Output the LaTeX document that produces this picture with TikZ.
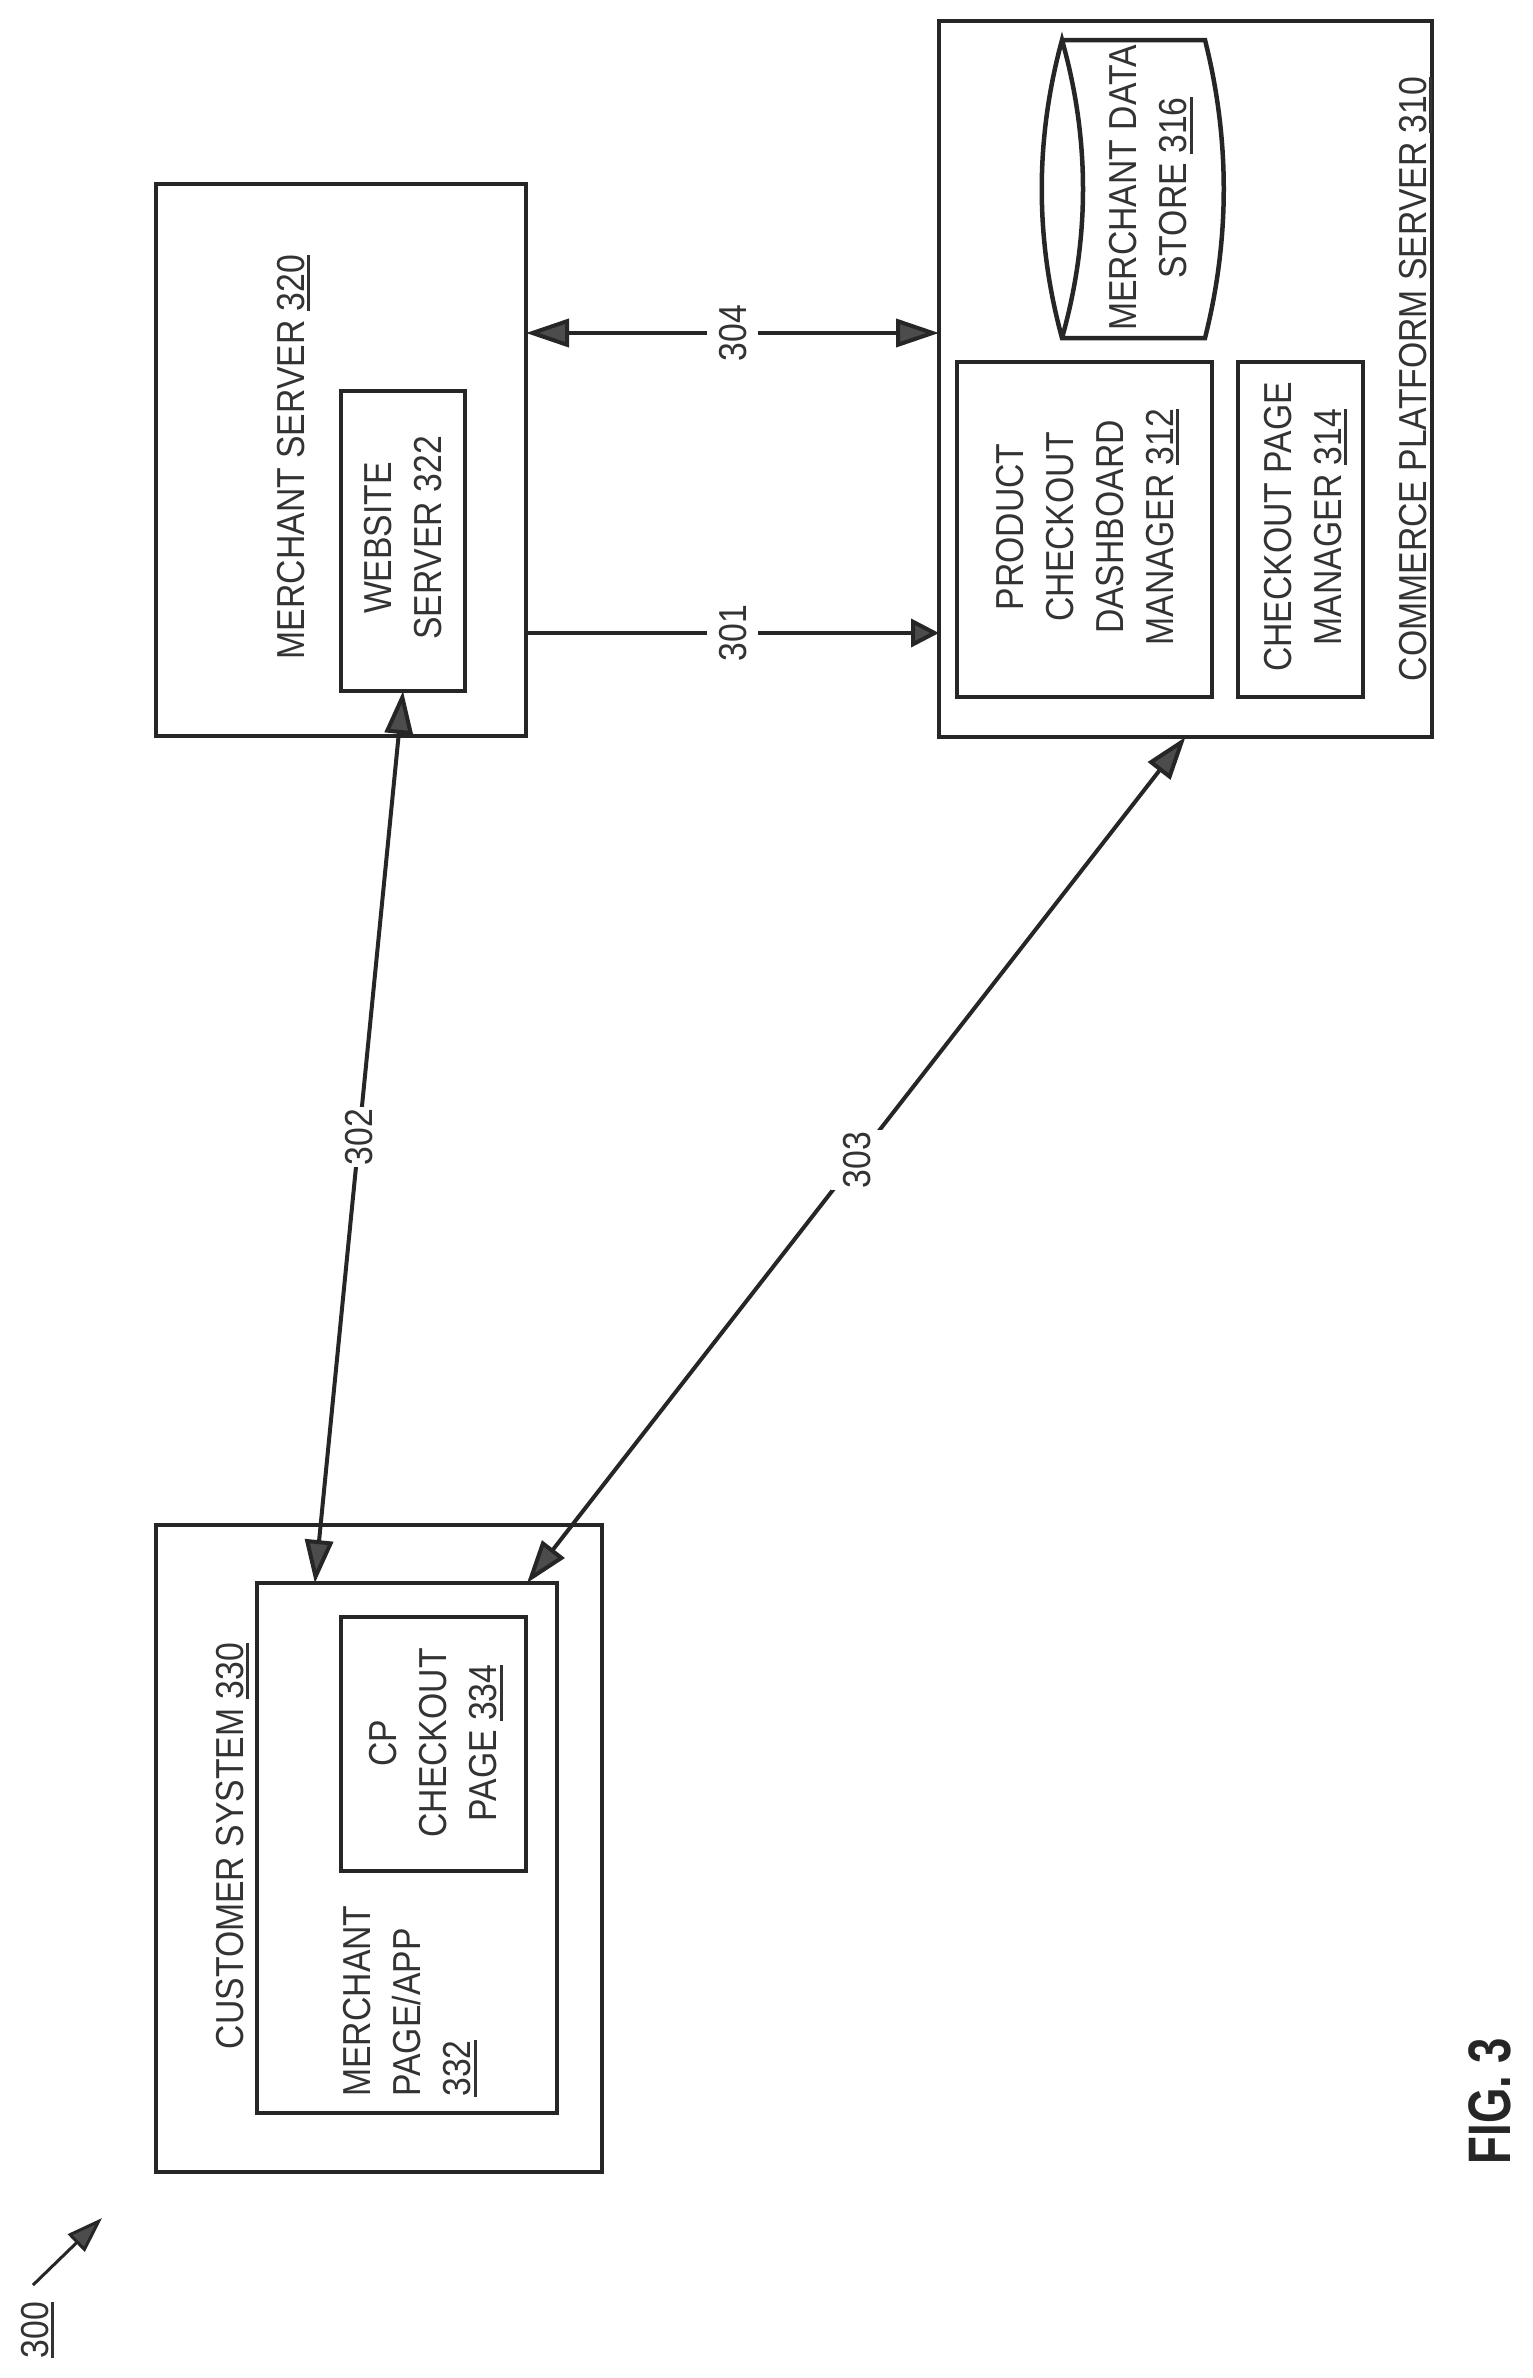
\documentclass[tikz,border=0pt]{standalone}
\usepackage{fontspec}
\setmainfont[FakeStretch=0.865]{Liberation Sans}
\newfontfamily\figfont[FakeStretch=0.76]{Liberation Sans}
\usetikzlibrary{calc,arrows.meta}
\newcommand{\refnum}[1]{\setbox0\hbox{#1}\rlap{\rule[-6pt]{\wd0}{3pt}}\box0}
\tikzset{
  every box/.style={draw=black!85, line width=4.5pt, minimum width={(\xb-\xa)*1pt}, minimum height={(\yb-\ya)*1pt}, inner sep=0pt, outer sep=0pt},
  boxtext/.style={rotate=90, align=center, font=\fontsize{39}{50}\selectfont, text=black!80, inner sep=0pt, text height=28pt, text depth=0pt},
  textlines/.style={text height={28pt+(#1-1)*50pt}},
  numlabel/.style={rotate=90, font=\fontsize{39}{50}\selectfont, fill=white, text=black!80, inner xsep=2pt, inner ysep=11.5pt, text height=28pt, text depth=0pt},
  link/.style={draw=black!85, line width=4pt},
}
\begin{document}
\begin{tikzpicture}[x=1pt, y=-1pt, >={Triangle[length=43pt,width=28pt,fill=black!70]}]
\useasboundingbox (0,0) rectangle (1532,2378);

\foreach \name/\xa/\ya/\xb/\yb in {merchant/156/184/526/736, website/341/391/465/691, platform/939/21/1432/737, product/957/362/1212/697, pagemanager/1238/362/1363/697, customer/156/1525/602/2172, merchantpage/257/1583/557/2113, cppage/341/1617/526/1871}
  \node [every box] (\name) at ({(\xa+\xb)/2},{(\ya+\yb)/2}) {};

% data store
\draw [link, line width=4.5pt] (1062,40) -- (1205,40) .. controls (1230,139) and (1230,239) .. (1205,338) -- (1062,338)
  .. controls (1035,239) and (1035,139) .. (1062,40) .. controls (1090,139) and (1090,239) .. (1062,338);
\node [boxtext, textlines=2] (store-text) at (1147.5,188) {MERCHANT DATA\\STORE \refnum{316}};

\node [boxtext] (merchant-text) at (290,457) {MERCHANT SERVER \refnum{320}};
\node [boxtext, textlines=2] (website-text) at (402.5,538) {WEBSITE\\SERVER 322};
\node [boxtext, textlines=4] (product-text) at (1084,527) {PRODUCT\\CHECKOUT\\DASHBOARD\\MANAGER \refnum{312}};
\node [boxtext, textlines=2] (pagemanager-text) at (1302,527) {CHECKOUT PAGE\\MANAGER \refnum{314}};
\node [boxtext] (platform-text) at (1412,379) {COMMERCE PLATFORM SERVER \refnum{310}};
\node [boxtext] (customer-text) at (229,1846) {CUSTOMER SYSTEM \refnum{330}};
\node [boxtext, textlines=3, align=left] (merchantpage-text) at (406.5,2001) {MERCHANT\\PAGE/APP\\\refnum{332}};
\node [boxtext, textlines=3] (cppage-text) at (432.5,1743) {CP\\CHECKOUT\\PAGE \refnum{334}};

\coordinate (row-304) at (0,333);
\coordinate (row-301) at (0,633);
\coordinate (tip-302) at ($(merchantpage.north west)!0.193!(merchantpage.north east)$);
\coordinate (tip-303) at ($(merchantpage.north west)!0.9!(merchantpage.north east)$);

\draw [link, <->] (merchant.east |- row-304) -- node [numlabel] {304} (platform.west |- row-304);
\draw [link, -{Triangle[length=28pt,width=28pt,fill=black!70]}] (merchant.east |- row-301) -- node [numlabel] {301} (platform.west |- row-301);
\draw [link, <->] (website.south) -- node [numlabel] {302} (tip-302);
\draw [link, <->] (platform.south) -- node [numlabel] {303} (tip-303);

% figure reference
\node [boxtext] (ref-300) at (34,2330) {\refnum{300}};
\coordinate (ref-tail) at (33,2285);
\coordinate (ref-head) at (102,2218);
\draw [link, line width=3pt, -{Triangle[length=36pt,width=24pt,fill=black!70]}] (ref-tail) -- (ref-head);

\node [rotate=90, inner sep=0pt, font=\figfont\bfseries\fontsize{60}{60}\selectfont, text=black!85] (fig-3) at (1489.5,2101) {FIG. 3};
\end{tikzpicture}
\end{document}
